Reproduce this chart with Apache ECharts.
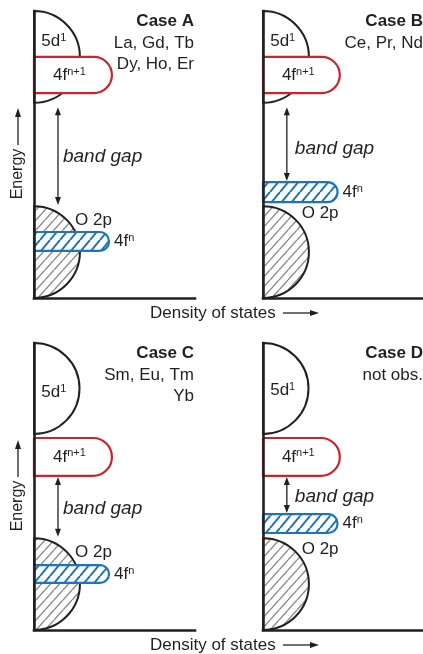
<!DOCTYPE html>
<html><head><meta charset="utf-8">
<script src="https://cdn.jsdelivr.net/npm/echarts@6/dist/echarts.min.js"></script>
<style>html,body{margin:0;padding:0;background:#fff}#c{width:423px;height:654px}</style>
</head><body><div id="c"></div>
<script>
// ---------------- data ----------------
const caseTitles = ['Case A', 'Case B', 'Case C', 'Case D'];
const caseElements = ['La, Gd, Tb\nDy, Ho, Er', 'Ce, Pr, Nd', 'Sm, Eu, Tm\nYb', 'not obs.'];
// energy ranges [low, high] (arbitrary units 0..10)
const d5Band  = [[6.8, 10], [6.8, 10], [6.83, 10], [6.83, 10]];
const fN1Band = [[7.14, 8.4], [7.14, 8.4], [5.37, 6.69], [5.37, 6.69]];
const o2pBand = [[0, 3.2], [0, 3.2], [0, 3.2], [0, 3.2]];
const fNBand  = [[1.64, 2.3], [3.34, 4.04], [1.64, 2.26], [3.38, 4.04]];
// density-of-states extent of the 4f bands (0..10)
const fN1Dos = [4.84, 4.8, 4.84, 4.8];
const fNDos  = [4.66, 4.66, 4.66, 4.66];
// band gap arrow [bottom, top] and its DOS position
const gapArrow = [[3.24, 6.65], [4.08, 6.65], [3.25, 5.33], [4.08, 5.33]];
const gapArrowDos = [1.49, 1.49, 1.49, 1.49];
// label anchors [dos, energy]
const d5Label  = [[0.45, 8.95], [0.45, 8.95], [0.45, 8.29], [0.45, 8.36]];
const fN1LabelDos = [1.18, 1.18, 1.18, 1.18];
const o2pLabel = [[2.55, 2.72], [2.42, 2.96], [2.55, 2.72], [2.42, 2.8]];
const gapLabel = [[1.8, 4.91], [1.99, 5.19], [1.8, 4.22], [1.99, 4.63]];

// ---------------- layout ----------------
const FONT = "'Liberation Sans', Arial, Helvetica, sans-serif";
const INK = '#231f20', RED = '#c9252c', BLUE = '#1b75bc', GRAY = '#8a8a8a';
const LEFTS = [34, 263], TOPS = [11, 343], GW = 161, GH = 287;

function hatch(w, h, color, lw) {
  const c = document.createElement('canvas');
  c.width = w; c.height = h;
  const g = c.getContext('2d');
  g.fillStyle = '#fff'; g.fillRect(0, 0, w, h);
  g.strokeStyle = color; g.lineWidth = lw;
  for (let k = -1; k <= 1; k++) {
    g.beginPath(); g.moveTo(k * w, h); g.lineTo(k * w + w, 0); g.stroke();
  }
  return { image: c, repeat: 'repeat' };
}
const grayHatch = hatch(9, 10, GRAY, 1.4);
const blueHatch = hatch(10, 12, BLUE, 2);

const txt = (x, y, text, extra) => ({
  type: 'text', x, y,
  style: Object.assign({ text, fill: INK, font: `17px ${FONT}`, align: 'left', verticalAlign: 'middle' }, extra || {})
});

function renderPanel(params, api) {
  const kind = api.value(0), lo = api.value(1), hi = api.value(2), ext = api.value(3);
  const lx = api.value(4), ly = api.value(5);
  if (kind === 0 || kind === 2) {
    const top = api.coord([0, hi]), bot = api.coord([0, lo]);
    const r = (bot[1] - top[1]) / 2;
    const lab = api.coord([lx, ly]);
    return {
      type: 'group', children: [
        { type: 'sector', shape: { cx: top[0], cy: top[1] + r, r0: 0, r, startAngle: -Math.PI / 2, endAngle: Math.PI / 2, clockwise: true },
          style: { fill: kind === 0 ? '#fff' : grayHatch, stroke: INK, lineWidth: 2 } },
        kind === 0
          ? txt(lab[0], lab[1], '{a|5d}{s|1}', { rich: { a: { fontSize: 17, fontFamily: FONT, fill: INK, lineHeight: 18 }, s: { fontSize: 11, fontFamily: FONT, fill: INK, verticalAlign: 'top' } } })
          : txt(lab[0], lab[1], 'O 2p')
      ]
    };
  }
  if (kind === 1 || kind === 3) {
    const p0 = api.coord([0, hi]), p1 = api.coord([ext, lo]);
    const w = p1[0] - p0[0], h = p1[1] - p0[1];
    const midY = (p0[1] + p1[1]) / 2;
    const children = [
      { type: 'rect', shape: { x: p0[0], y: p0[1], width: w, height: h, r: [0, h / 2, h / 2, 0] },
        style: { fill: kind === 1 ? '#fff' : blueHatch, stroke: kind === 1 ? RED : BLUE, lineWidth: 2.2 } }
    ];
    if (kind === 1) {
      const lab = api.coord([lx, (lo + hi) / 2]);
      children.push(txt(lab[0], lab[1], '{a|4f}{s|n+1}', { rich: { a: { fontSize: 17, fontFamily: FONT, fill: INK, lineHeight: 18 }, s: { fontSize: 11, fontFamily: FONT, fill: INK, verticalAlign: 'top' } } }));
    } else {
      children.push(txt(p1[0] + 5, midY, '{a|4f}{s|n}', { rich: { a: { fontSize: 17, fontFamily: FONT, fill: INK, lineHeight: 18 }, s: { fontSize: 11, fontFamily: FONT, fill: INK, verticalAlign: 'top' } } }));
    }
    return { type: 'group', children };
  }
  // kind 4: band gap arrow
  const t = api.coord([ext, hi]), b = api.coord([ext, lo]);
  const lab = api.coord([lx, ly]);
  const x = t[0], ah = 8, aw = 3;
  return {
    type: 'group', children: [
      { type: 'line', shape: { x1: x, y1: t[1] + 5, x2: x, y2: b[1] - 5 }, style: { stroke: INK, lineWidth: 1.3 } },
      { type: 'polygon', shape: { points: [[x, t[1]], [x - aw, t[1] + ah], [x + aw, t[1] + ah]] }, style: { fill: INK } },
      { type: 'polygon', shape: { points: [[x, b[1]], [x - aw, b[1] - ah], [x + aw, b[1] - ah]] }, style: { fill: INK } },
      txt(lab[0], lab[1], 'band gap', { font: `italic 19px ${FONT}` })
    ]
  };
}

const grids = [], xAxes = [], yAxes = [], series = [];
for (let i = 0; i < 4; i++) {
  const col = i % 2, row = Math.floor(i / 2);
  grids.push({ left: LEFTS[col], top: TOPS[row], width: GW, height: GH, containLabel: false });
  const axisCommon = {
    type: 'value', min: 0, max: 10, gridIndex: i, z: 10,
    axisLine: { show: true, onZero: false, lineStyle: { color: INK, width: 2.6, cap: 'square' } },
    axisTick: { show: false }, axisLabel: { show: false }, splitLine: { show: false }
  };
  xAxes.push(Object.assign({}, axisCommon));
  yAxes.push(Object.assign({}, axisCommon));
  series.push({
    type: 'custom', xAxisIndex: i, yAxisIndex: i, z: 2, clip: false, silent: true,
    renderItem: renderPanel,
    data: [
      [0, d5Band[i][0], d5Band[i][1], 0, d5Label[i][0], d5Label[i][1]],
      [1, fN1Band[i][0], fN1Band[i][1], fN1Dos[i], fN1LabelDos[i], 0],
      [2, o2pBand[i][0], o2pBand[i][1], 0, o2pLabel[i][0], o2pLabel[i][1]],
      [3, fNBand[i][0], fNBand[i][1], fNDos[i], 0, 0],
      [4, gapArrow[i][0], gapArrow[i][1], gapArrowDos[i], gapLabel[i][0], gapLabel[i][1]]
    ]
  });
}

// titles, axis names
const graphics = [];
for (let i = 0; i < 4; i++) {
  const col = i % 2, row = Math.floor(i / 2);
  const xr = LEFTS[col] + GW - 1, yt = TOPS[row];
  graphics.push(txt(xr, yt + 10, caseTitles[i], { align: 'right', font: `bold 17px ${FONT}` }));
  graphics.push(txt(xr, yt + 21.5, caseElements[i], { align: 'right', verticalAlign: 'top', lineHeight: 21 }));
}
for (let row = 0; row < 2; row++) {
  const T = TOPS[row];
  // Energy (vertical)
  graphics.push({ type: 'text', x: 18, y: T + 163, rotation: Math.PI / 2,
    style: { text: 'Energy', fill: INK, font: `16px ${FONT}`, align: 'center', verticalAlign: 'middle' } });
  graphics.push({ type: 'line', shape: { x1: 18, y1: T + 134, x2: 18, y2: T + 103 }, style: { stroke: INK, lineWidth: 1.3 } });
  graphics.push({ type: 'polygon', shape: { points: [[18, T + 97], [15, T + 106], [21, T + 106]] }, style: { fill: INK } });
  // Density of states (horizontal)
  const y = T + 302;
  graphics.push(txt(150, y, 'Density of states'));
  graphics.push({ type: 'line', shape: { x1: 283, y1: y, x2: 312, y2: y }, style: { stroke: INK, lineWidth: 1.3 } });
  graphics.push({ type: 'polygon', shape: { points: [[319, y], [310, y - 3], [310, y + 3]] }, style: { fill: INK } });
}

const chart = echarts.init(document.getElementById('c'), null, { renderer: 'canvas' });
chart.setOption({
  animation: false,
  backgroundColor: '#fff',
  grid: grids, xAxis: xAxes, yAxis: yAxes, series,
  graphic: { elements: graphics }
});
</script></body></html>
